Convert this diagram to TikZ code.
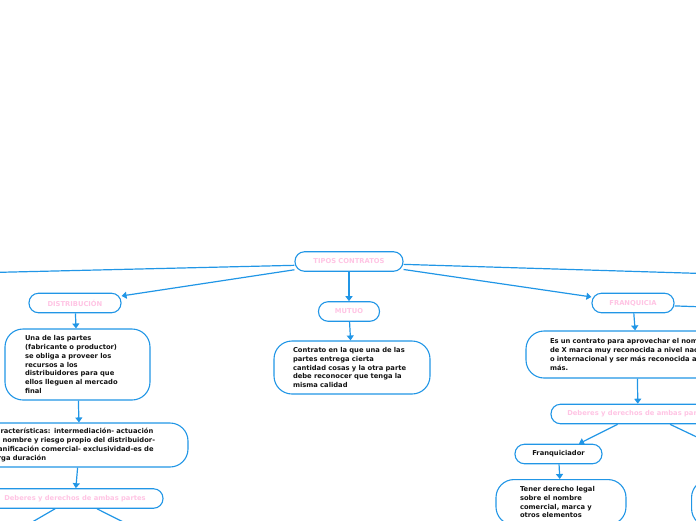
\documentclass[tikz,border=0pt]{standalone}
\usepackage{fontspec}
\newfontfamily\dvs{DejaVu Sans}
\usetikzlibrary{arrows.meta}
\definecolor{lnblue}{RGB}{33,150,230}
\definecolor{ttpink}{RGB}{255,196,228}
\definecolor{ttblack}{RGB}{20,20,20}
\begin{document}
\begin{tikzpicture}[x=1pt,y=-1pt,
  txt/.style={font=\dvs\bfseries\fontsize{6.75}{8.7}\selectfont},
  box/.style={draw=lnblue, line width=1.1pt, fill=white, inner sep=0pt},
  pill/.style={box, rounded corners=9.5pt, minimum height=19.5pt, txt, text=ttpink},
  wpill/.style={box, rounded corners=9.5pt, minimum height=19.5pt, txt, text=ttblack},
  bigbox/.style={box, rounded corners=18pt, txt, text=ttblack, align=left},
  conn/.style={draw=lnblue, line width=1.2pt},
  arr/.style={conn, -{Triangle[width=7pt,length=5pt]}}]
\useasboundingbox (0,0) rectangle (696,520);
\clip (0,0) rectangle (696,520);

% off-picture end points
\coordinate (offL) at (-300,279.4);
\coordinate (offR) at (800,276.5);
\coordinate (offF) at (800,310.3);
\coordinate (dl) at (15,532);
\coordinate (dr) at (143,532);
\coordinate (offR2) at (722,449);

% nodes
\node[pill, minimum width=108pt] (root) at (349,261.5) {TIPOS CONTRATOS};

\node[pill, minimum width=92pt] (dist) at (75,303) {DISTRIBUCIÓN};
\node[bigbox, minimum height=71pt, text width=105pt, inner xsep=20pt] (distd) at (77.5,364.5)
  {Una de las partes\\(fabricante o productor)\\se obliga a proveer los\\recursos a los\\distribuidores para que\\ellos lleguen al mercado\\final};
\node[bigbox, minimum height=44pt, text width=177pt, inner xsep=20pt] (caract) at (79.5,445)
  {Características: intermediación- actuación\\en nombre y riesgo propio del distribuidor-\\planificación comercial- exclusividad-es de\\larga duración};
\node[pill, minimum width=176pt] (distdeb) at (75,498.5) {Deberes y derechos de ambas partes};

\node[pill, minimum width=61pt] (mutuo) at (349,311.5) {MUTUO};
\node[bigbox, minimum height=53pt, text width=118pt, inner xsep=19pt] (mutuod) at (352,367.5)
  {Contrato en la que una de las\\partes entrega cierta\\cantidad cosas y la otra parte\\debe reconocer que tenga la\\misma calidad};

\node[pill, minimum width=82pt] (franq) at (633,303) {FRANQUICIA};
\node[bigbox, minimum height=47pt, text width=174pt, inner xsep=24pt] (franqd) at (637,354.5)
  {Es un contrato para aprovechar el nombre\\de X marca muy reconocida a nivel nacional\\o internacional y ser más reconocida aún\\más.};
\node[pill, minimum width=174pt] (franqdeb) at (638,414) {Deberes y derechos de ambas partes};
\node[wpill, minimum width=87pt] (fquic) at (558.5,454) {Franquiciador};
\node[bigbox, anchor=north, text width=82pt, inner xsep=24pt, inner ysep=7pt] (tener) at (561,479)
  {Tener derecho legal\\sobre el nombre\\comercial, marca y\\otros elementos};
\node[box, rounded corners=18pt, anchor=north west, minimum width=130pt, minimum height=47pt] (tener2) at (691,479) {};

% connectors
\draw[conn] (root.184) -- (offL);
\draw[conn] (root.357) -- (offR);
\draw[arr] (root) -- (dist);
\draw[arr] (root) -- (mutuo);
\draw[arr] (root) -- (franq);
\draw[arr] (dist) -- (distd);
\draw[arr] (distd) -- (caract);
\draw[arr] (caract) -- (distdeb);
\draw[conn] ([xshift=-20pt]distdeb.south) -- (dl);
\draw[conn] ([xshift=22pt]distdeb.south) -- (dr);
\draw[arr] (mutuo) -- (mutuod);
\draw[arr] (franq) -- (franqd);
\draw[conn] (franq.356) -- (offF);
\draw[arr] (franqd) -- (franqdeb);
\draw[arr] (franqdeb) -- (fquic);
\draw[conn] ([xshift=32pt]franqdeb.south) -- (offR2);
\draw[arr] (fquic) -- (tener);
\end{tikzpicture}
\end{document}
